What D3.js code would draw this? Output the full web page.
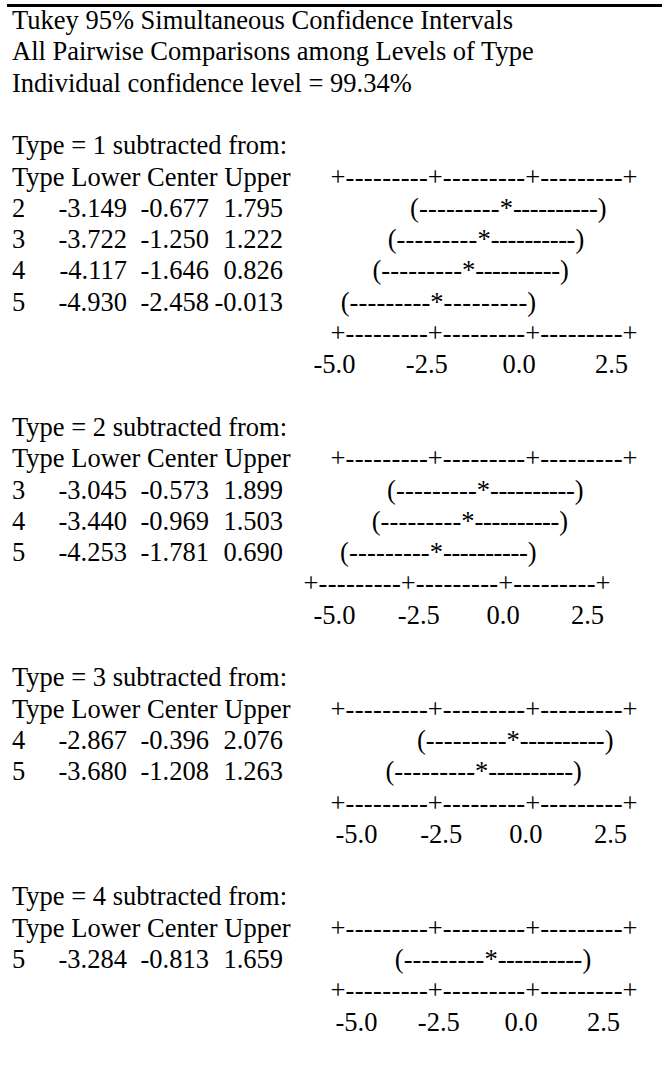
<!DOCTYPE html>
<html>
<head>
<meta charset="utf-8">
<script src="https://cdn.jsdelivr.net/npm/d3@7/dist/d3.min.js"></script>
<style>
  html, body { margin: 0; padding: 0; background: #fff; }
  svg { display: block; }
  text { font-family: "Liberation Serif", "Times New Roman", serif; fill: #000; }
</style>
</head>
<body>
<svg id="chart" width="662" height="1068"></svg>
<script>
// ---------------- data ----------------
const titleLines = [
  "Tukey 95% Simultaneous Confidence Intervals",
  "All Pairwise Comparisons among Levels of Type",
  "Individual confidence level = 99.34%"
];
const headerText = "Type Lower Center Upper";
const baseTypes = ["1", "2", "3", "4"];

const g1Types  = ["2", "3", "4", "5"];
const g1Lower  = [-3.149, -3.722, -4.117, -4.930];
const g1Center = [-0.677, -1.250, -1.646, -2.458];
const g1Upper  = [1.795, 1.222, 0.826, -0.013];

const g2Types  = ["3", "4", "5"];
const g2Lower  = [-3.045, -3.440, -4.253];
const g2Center = [-0.573, -0.969, -1.781];
const g2Upper  = [1.899, 1.503, 0.690];

const g3Types  = ["4", "5"];
const g3Lower  = [-2.867, -3.680];
const g3Center = [-0.396, -1.208];
const g3Upper  = [2.076, 1.263];

const g4Types  = ["5"];
const g4Lower  = [-3.284];
const g4Center = [-0.813];
const g4Upper  = [1.659];

const axisTicks  = [-5.0, -2.5, 0.0, 2.5];
const tickLabels = ["-5.0", "-2.5", "0.0", "2.5"];

// ---------------- layout ----------------
const FS = 26.5;
const PITCH = 31.3;
const BASE0 = 29;
const yb = k => BASE0 + PITCH * k;
const fmt = v => v.toFixed(3);

const svg = d3.select("#chart");
svg.append("rect").attr("x", 0).attr("y", 0).attr("width", 662).attr("height", 1068).attr("fill", "#fff");
svg.append("rect").attr("x", 7).attr("y", 4).attr("width", 655).attr("height", 3).attr("fill", "#000");

const x = d3.scaleLinear().domain([-5, 2.5]).range([338, 630]);
const shifted = dx => x.copy().range(x.range().map(r => r + dx));

function txt(g, s, xx, y, anchor) {
  return g.append("text").attr("x", xx).attr("y", y)
    .attr("font-size", FS).attr("text-anchor", anchor || "start").text(s);
}
function dashes(g, x0, x1, y) {
  const w = x1 - x0;
  if (w <= 2) return;
  const n = Math.max(1, Math.round(w / (FS * 0.333)));
  g.append("text").attr("x", x0).attr("y", y).attr("font-size", FS)
    .attr("textLength", w).attr("lengthAdjust", "spacing")
    .text("-".repeat(n));
}
function plusAxis(g, scale, y) {
  const half = FS * 0.564 / 2;
  axisTicks.forEach((t, i) => {
    txt(g, "+", scale(t), y, "middle");
    if (i < axisTicks.length - 1) dashes(g, scale(t) + half, scale(axisTicks[i + 1]) - half, y);
  });
}
function labelAxis(g, scale, y) {
  const ax = g.append("g").attr("transform", `translate(0,${y})`)
    .call(d3.axisBottom(scale).tickValues(axisTicks).tickSize(0)
      .tickFormat((d, i) => tickLabels[i]));
  ax.select(".domain").remove();
  ax.selectAll("text").attr("y", 0).attr("dy", 0)
    .attr("font-size", FS).attr("font-family", "Liberation Serif, Times New Roman, serif")
    .attr("fill", "#000");
}
function interval(g, scale, lo, ce, up, y) {
  const p = FS * 0.333, s = FS * 0.5 / 2;
  const xl = scale(lo), xc = scale(ce), xu = scale(up) + 4;
  txt(g, "(", xl, y, "start");
  txt(g, "*", xc, y, "middle");
  txt(g, ")", xu, y, "end");
  dashes(g, xl + p, xc - s, y);
  dashes(g, xc + s, xu - p, y);
}

const root = svg.append("g");
titleLines.forEach((t, i) => txt(root, t, 12, yb(i)));

// per-section text-flow layout: shift of the bottom axis, of the interval rows,
// and the spread of the tick labels (as in the typeset original)
const groups = [
  { types: g1Types, lower: g1Lower, center: g1Center, upper: g1Upper, shift: 0,   iv: 0,   lab: [334, 611] },
  { types: g2Types, lower: g2Lower, center: g2Center, upper: g2Upper, shift: -27, iv: -27, lab: [334, 587] },
  { types: g3Types, lower: g3Lower, center: g3Center, upper: g3Upper, shift: 0,   iv: -4,  lab: [356, 610] },
  { types: g4Types, lower: g4Lower, center: g4Center, upper: g4Upper, shift: 0,   iv: -10, lab: [356, 603] }
];

let k = 4;
groups.forEach((gr, gi) => {
  const g = root.append("g");
  txt(g, `Type = ${baseTypes[gi]} subtracted from:`, 12, yb(k)); k++;
  txt(g, headerText, 12, yb(k));
  plusAxis(g, x, yb(k)); k++;
  const xi = shifted(gr.iv);
  gr.types.forEach((t, i) => {
    const y = yb(k);
    txt(g, t, 12, y);
    txt(g, fmt(gr.lower[i]), 127, y, "end");
    txt(g, fmt(gr.center[i]), 209, y, "end");
    txt(g, fmt(gr.upper[i]), 283, y, "end");
    interval(g, xi, gr.lower[i], gr.center[i], gr.upper[i], y);
    k++;
  });
  plusAxis(g, shifted(gr.shift), yb(k)); k++;
  labelAxis(g, x.copy().range(gr.lab), yb(k)); k++;
  k++;
});
</script>
</body>
</html>
